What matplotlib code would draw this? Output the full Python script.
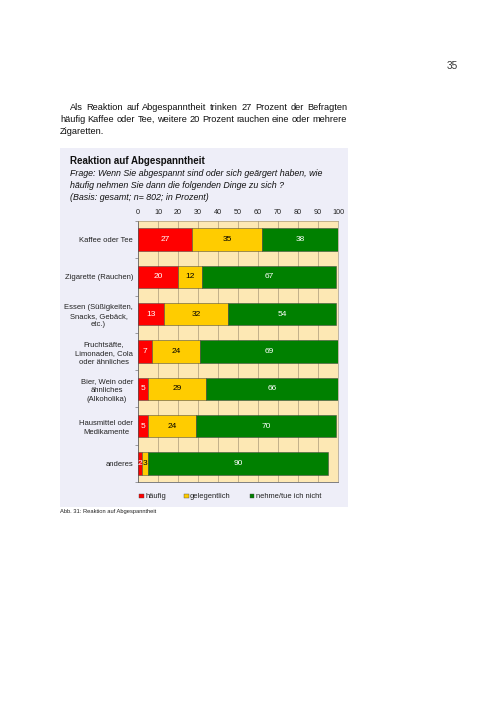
import matplotlib
matplotlib.use('Agg')

import matplotlib.pyplot as plt
from matplotlib.patches import Rectangle
import numpy as np

plt.rcParams['font.family'] = ['Liberation Sans', 'DejaVu Sans']

# data
categories = ['Kaffee oder Tee', 'Zigarette (Rauchen)',
              'Essen (Süßigkeiten,\nSnacks, Gebäck,\netc.)',
              'Fruchtsäfte,\nLimonaden, Cola\noder ähnliches',
              'Bier, Wein oder\nähnliches\n(Alkoholika)',
              'Hausmittel oder\nMedikamente', 'anderes']
haeufig = [27, 20, 13, 7, 5, 5, 2]
gelegentlich = [35, 12, 32, 24, 29, 24, 3]
nie = [38, 67, 54, 69, 66, 70, 90]
series_names = ['häufig', 'gelegentlich', 'nehme/tue ich nicht']
colors = ['#ff0000', '#ffcc00', '#008000']
label_colors = ['white', 'black', 'white']
x_ticks = [0, 10, 20, 30, 40, 50, 60, 70, 80, 90, 100]

paragraph = ['Als Reaktion auf Abgespanntheit trinken 27 Prozent der Befragten',
             'häufig Kaffee oder Tee, weitere 20 Prozent rauchen eine oder mehrere',
             'Zigaretten.']

W, H = 504, 712
fig = plt.figure(figsize=(W / 72.0, H / 72.0), dpi=72)
fig.patch.set_facecolor('white')


def fx(px):
    return px / float(W)


def fy(py):
    return 1 - py / float(H)


# page number
fig.text(fx(452), fy(66), '35', fontsize=10, ha='center', va='center', color='#333333')

# justified paragraph
renderer = fig.canvas.get_renderer()
para_left = [70, 60, 60]
para_y = [107, 119.5, 132]
para_right = 347
for i, line in enumerate(paragraph):
    words = line.split(' ')
    if i == len(paragraph) - 1:
        fig.text(fx(para_left[i]), fy(para_y[i]), line, fontsize=9.2,
                 ha='left', va='center', color='#111111')
        continue
    widths = []
    for w in words:
        t = fig.text(0, 0, w, fontsize=9.2)
        widths.append(t.get_window_extent(renderer).width)
        t.remove()
    gap = (para_right - para_left[i] - sum(widths)) / (len(words) - 1)
    x = para_left[i]
    for w, wd in zip(words, widths):
        fig.text(fx(x), fy(para_y[i]), w, fontsize=9.2, ha='left', va='center',
                 color='#111111')
        x += wd + gap

# chart panel background
fig.patches.append(Rectangle((fx(60), fy(507)), fx(348) - fx(60), fy(148) - fy(507),
                             transform=fig.transFigure, facecolor='#eeeef8',
                             edgecolor='none', zorder=-10))

fig.text(fx(70), fy(161), 'Reaktion auf Abgespanntheit', fontsize=9.7,
         fontweight='bold', ha='left', va='center', color='#111111')
subtitle = ['Frage: Wenn Sie abgespannt sind oder sich geärgert haben, wie',
            'häufig nehmen Sie dann die folgenden Dinge zu sich ?',
            '(Basis: gesamt; n= 802; in Prozent)']
for i, s in enumerate(subtitle):
    fig.text(fx(70), fy(173.5 + 12 * i), s, fontsize=8.9, style='italic',
             ha='left', va='center', color='#111111')

# bar chart
ax = fig.add_axes([fx(138), fy(482), fx(338) - fx(138), fy(221) - fy(482)])
ax.set_zorder(2)
ax.set_facecolor('#fde8b4')
y = np.arange(len(categories))
left = np.zeros(len(categories))
for vals, name, col, lcol in zip([haeufig, gelegentlich, nie], series_names,
                                 colors, label_colors):
    vals = np.array(vals, dtype=float)
    ax.barh(y, vals, left=left, height=0.6, color=col, edgecolor='#444444',
            linewidth=0.5, label=name, zorder=3)
    for yi, l, v in zip(y, left, vals):
        ax.text(l + v / 2.0, yi, '%d' % v, ha='center', va='center',
                fontsize=8.4, color=lcol, zorder=4)
    left += vals

ax.set_xlim(0, 100)
ax.set_ylim(len(categories) - 0.5, -0.5)
ax.set_xticks(x_ticks)
ax.xaxis.tick_top()
ax.tick_params(axis='x', length=0, pad=5, labelsize=7.3, colors='#222222')
ax.set_yticks(y)
ax.set_yticklabels(categories, multialignment='center', fontsize=7.6,
                   color='#222222', linespacing=1.35)
ax.tick_params(axis='y', which='major', length=0, pad=5)
ax.set_yticks(np.arange(len(categories) + 1) - 0.5, minor=True)
ax.tick_params(axis='y', which='minor', length=3, color='#666666', width=0.6)
ax.grid(axis='x', color='#a09070', linewidth=0.6, zorder=1)
ax.set_axisbelow(True)
for side in ['left', 'bottom']:
    ax.spines[side].set_color('#666666')
    ax.spines[side].set_linewidth(0.8)
for side in ['top', 'right']:
    ax.spines[side].set_color('#a09070')
    ax.spines[side].set_linewidth(0.6)

# legend
leg_x = [141, 186, 252]
for lx, name, col in zip(leg_x, series_names, colors):
    fig.patches.append(Rectangle((fx(lx - 2), fy(498)), fx(4.5), fy(493.5) - fy(498),
                                 transform=fig.transFigure, facecolor=col,
                                 edgecolor='#444444', linewidth=0.4))
    fig.text(fx(lx + 4), fy(496), name, fontsize=7.5, ha='left', va='center',
             color='#222222')

fig.text(fx(60), fy(511), 'Abb. 31: Reaktion auf Abgespanntheit', fontsize=5.8,
         ha='left', va='center', color='#222222')

fig.savefig('out.png', dpi=72, facecolor='white')
plt.close('all')
